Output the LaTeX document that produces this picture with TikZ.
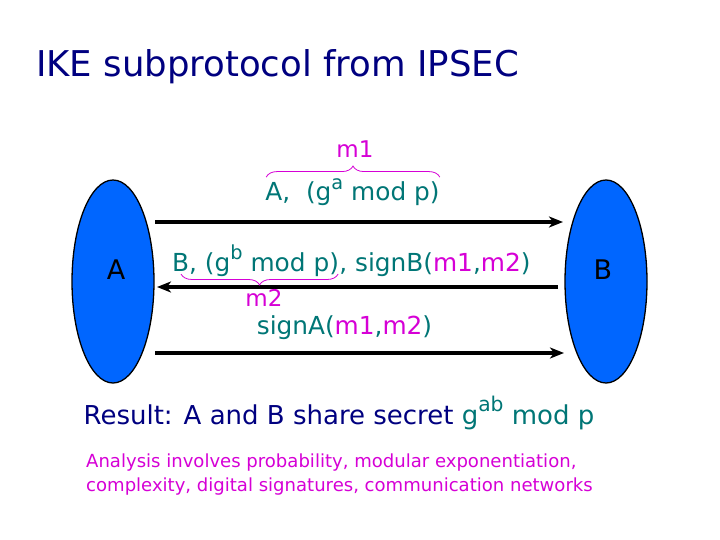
\documentclass[tikz,border=0pt]{standalone}
\usepackage{fontspec}
\usepackage{graphicx}
\setmainfont{DejaVu Sans}
\usetikzlibrary{shapes.geometric,arrows.meta,decorations.pathreplacing}
\definecolor{tealx}{RGB}{0,118,118}
\definecolor{magx}{RGB}{214,0,214}
\definecolor{navyx}{RGB}{0,0,128}
\definecolor{bluex}{RGB}{0,102,255}
\newcommand\sps[1]{\raisebox{0.48em}{\scalebox{0.78}{#1}}}
\tikzset{
  party/.style={ellipse, draw=black, line width=1.3pt, fill=bluex, minimum width=82pt, minimum height=203pt, inner sep=0pt},
  plabel/.style={font=\fontsize{27}{27}\selectfont, text=black, inner sep=0pt},
  msg/.style={line width=4pt, -{Stealth[length=14pt,width=11pt,inset=4pt]}},
  txt/.style={font=\fontsize{24.8}{24.8}\selectfont, text=tealx, inner sep=0pt},
  mtxt/.style={font=\fontsize{23}{23}\selectfont, text=magx, inner sep=0pt},
  bracex/.style={draw=magx, line width=0.8pt, decorate, decoration={brace, amplitude=11pt}},
  antxt/.style={font=\fontsize{18.05}{18.05}\selectfont, text=magx, inner sep=0pt, anchor=base west},
}
\begin{document}
\begin{tikzpicture}[x=1pt,y=-1pt]
\useasboundingbox[fill=white] (0,0) rectangle (720,540);
% title
\node[font=\fontsize{35.5}{35.5}\selectfont, text=navyx, inner sep=0pt, anchor=base] (title) at (277.5,77) {IKE subprotocol from IPSEC};
% parties
\node[party] (A) at (113,281.5) {};
\node[party] (B) at (606,281.5) {};
\node[plabel] (Alab) at (116,270) {A};
\node[plabel] (Blab) at (603,270) {B};
% message endpoints
\coordinate (a1) at (155,222);
\coordinate (b1) at (563,222);
\coordinate (b2) at (558,287);
\coordinate (a2) at (157,287);
\coordinate (a3) at (155,353);
\coordinate (b3) at (564,353);
\draw[msg] (a1) -- (b1);
\draw[msg] (b2) -- (a2);
\draw[msg] (a3) -- (b3);
% message 1
\node[txt, anchor=base] (l1) at (352.5,201) {A,\ \ (g\sps{a} mod p)};
\node[mtxt, anchor=base] (m1) at (355,158) {m1};
\draw[bracex] ([xshift=1pt,yshift=1pt]l1.north west) -- ([yshift=1pt]l1.north east);
% message 2
\node[txt, anchor=base west] (l2a) at (172,271) {B, (g\sps{b} mod p)};
\node[txt, anchor=base west] (l2b) at (l2a.base east) {, signB(\textcolor{magx}{m1},\textcolor{magx}{m2})};
\draw[bracex] ([xshift=-1pt,yshift=-3pt]l2a.base east) -- ([xshift=9pt,yshift=-3pt]l2a.base west);
\node[mtxt, anchor=base] (m2) at (264,306) {m2};
% message 3
\node[txt, anchor=base] (l3) at (344.5,334) {signA(\textcolor{magx}{m1},\textcolor{magx}{m2})};
% result
\node[font=\fontsize{26}{26}\selectfont, text=navyx, inner sep=0pt, anchor=base] (res) at (339,424) {Result: A and B share secret \textcolor{tealx}{g\sps{ab} mod p}};
% analysis
\node[antxt] (an1) at (86,467) {Analysis involves probability, modular exponentiation,};
\node[antxt] (an2) at (86,491) {complexity, digital signatures, communication networks};
\end{tikzpicture}
\end{document}
